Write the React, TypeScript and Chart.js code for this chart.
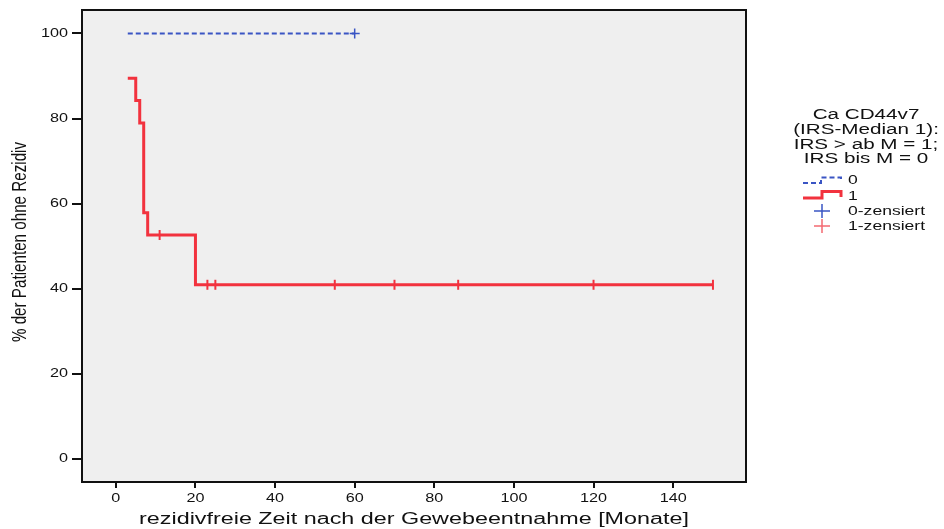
import React, { useEffect, useRef } from "react";
import { Chart, registerables } from "chart.js";

Chart.register(...registerables);

// ---- data ----
const blueTimes = [3, 60];
const blueSurv = [100, 100];
const blueCensorTimes = [60];
const blueCensorSurv = [100];

const redTimes = [3, 5, 6, 7, 8, 20, 150];
const redSurv = [89.47, 84.21, 78.95, 57.89, 52.63, 40.94, 40.94];
const redCensorTimes = [11, 23, 25, 55, 70, 86, 120, 150];
const redCensorSurv = [52.63, 40.94, 40.94, 40.94, 40.94, 40.94, 40.94, 40.94];

const xTicks = [0, 20, 40, 60, 80, 100, 120, 140];
const yTicks = [0, 20, 40, 60, 80, 100];

const xTitle = "rezidivfreie Zeit nach der Gewebeentnahme [Monate]";
const yTitle = "% der Patienten ohne Rezidiv";
const legendTitle = ["Ca CD44v7", "(IRS-Median 1):", "IRS > ab M = 1;", "IRS bis M = 0"];
const legendLabels = ["0", "1", "0-zensiert", "1-zensiert"];

const BLUE = "#3a55c4";
const RED = "#f2323e";
const RED_LIGHT = "#f46a72";
const FONT = "'Liberation Sans', Arial, sans-serif";
const SX = 1.35; // horizontal text stretch seen in the reference

const zip = (xs: number[], ys: number[]) => xs.map((x, i) => ({ x, y: ys[i] }));

function text(ctx: CanvasRenderingContext2D, s: string, x: number, y: number, size: number, align: CanvasTextAlign) {
  ctx.save();
  ctx.translate(x, y);
  ctx.scale(SX, 1);
  ctx.font = `${size}px ${FONT}`;
  ctx.textAlign = align;
  ctx.textBaseline = "middle";
  ctx.fillText(s, 0, 0);
  ctx.restore();
}

const decorPlugin = {
  id: "decor",
  beforeDraw(chart: any) {
    const { ctx, chartArea: a } = chart;
    ctx.save();
    ctx.fillStyle = "#efefef";
    ctx.fillRect(a.left, a.top, a.right - a.left, a.bottom - a.top);
    ctx.restore();
  },
  afterDraw(chart: any) {
    const { ctx, chartArea: a } = chart;
    const xs = chart.scales.x;
    const ys = chart.scales.y;
    ctx.save();
    // frame
    ctx.strokeStyle = "#111";
    ctx.lineWidth = 2;
    ctx.strokeRect(a.left, a.top, a.right - a.left, a.bottom - a.top);

    ctx.fillStyle = "#111";
    // tick labels
    xTicks.forEach((v) => text(ctx, String(v), xs.getPixelForValue(v), 499, 12, "center"));
    yTicks.forEach((v) => text(ctx, String(v), 68, ys.getPixelForValue(v), 12, "right"));

    // axis titles
    text(ctx, xTitle, (a.left + a.right) / 2, 519, 17.3, "center");
    ctx.save();
    ctx.translate(20, 242);
    ctx.rotate(-Math.PI / 2);
    ctx.scale(1, SX);
    ctx.font = `15.2px ${FONT}`;
    ctx.textAlign = "center";
    ctx.textBaseline = "middle";
    ctx.fillText(yTitle, 0, 0);
    ctx.restore();

    // legend title
    const ly = [115, 130, 144.5, 159];
    legendTitle.forEach((t, i) => text(ctx, t, 866, ly[i], 15.3, "center"));

    // legend items
    const iy = [180, 196, 211, 226];
    legendLabels.forEach((t, i) => text(ctx, t, 848, iy[i], 13, "left"));

    // blue dashed step icon
    ctx.strokeStyle = BLUE;
    ctx.lineWidth = 2;
    ctx.setLineDash([5, 3]);
    ctx.beginPath();
    ctx.moveTo(803, 183);
    ctx.lineTo(821, 183);
    ctx.lineTo(821, 177.5);
    ctx.lineTo(841, 177.5);
    ctx.lineTo(841, 181);
    ctx.stroke();
    ctx.setLineDash([]);

    // red step icon
    ctx.strokeStyle = RED;
    ctx.lineWidth = 3;
    ctx.beginPath();
    ctx.moveTo(803, 198);
    ctx.lineTo(822, 198);
    ctx.lineTo(822, 191.5);
    ctx.lineTo(841, 191.5);
    ctx.lineTo(841, 197);
    ctx.stroke();

    // censor crosses
    ctx.lineWidth = 1.5;
    ctx.strokeStyle = BLUE;
    ctx.beginPath();
    ctx.moveTo(814, 211); ctx.lineTo(830, 211);
    ctx.moveTo(822, 204); ctx.lineTo(822, 218);
    ctx.stroke();
    ctx.strokeStyle = RED_LIGHT;
    ctx.beginPath();
    ctx.moveTo(814, 226); ctx.lineTo(830, 226);
    ctx.moveTo(822, 219); ctx.lineTo(822, 233);
    ctx.stroke();
    ctx.restore();
  },
};

export default function App() {
  const ref = useRef<HTMLCanvasElement | null>(null);

  useEffect(() => {
    if (!ref.current) return;
    Chart.defaults.font.family = FONT;
    const chart = new Chart(ref.current, {
      type: "scatter",
      data: {
        datasets: [
          {
            label: "0",
            data: zip(blueTimes, blueSurv),
            showLine: true,
            stepped: true,
            borderColor: BLUE,
            borderWidth: 2,
            borderDash: [5, 3],
            pointRadius: 0,
            fill: false,
          },
          {
            label: "1",
            data: zip(redTimes, redSurv),
            showLine: true,
            stepped: true,
            borderColor: RED,
            borderWidth: 3,
            pointRadius: 0,
            fill: false,
          },
          {
            label: "0-zensiert",
            data: zip(blueCensorTimes, blueCensorSurv),
            showLine: false,
            pointStyle: "cross",
            pointRadius: 5,
            borderColor: BLUE,
            backgroundColor: BLUE,
            borderWidth: 1.5,
          },
          {
            label: "1-zensiert",
            data: zip(redCensorTimes, redCensorSurv),
            showLine: false,
            pointStyle: "line",
            rotation: 90,
            pointRadius: 5,
            borderColor: RED,
            backgroundColor: RED,
            borderWidth: 2,
          },
        ],
      },
      options: {
        animation: false,
        responsive: true,
        maintainAspectRatio: false,
        layout: { padding: { top: 10, right: 198, left: 0, bottom: 0 } },
        plugins: { legend: { display: false }, tooltip: { enabled: false } },
        scales: {
          x: {
            type: "linear",
            min: -8.5,
            max: 158.3,
            afterBuildTicks: (s: any) => {
              s.ticks = xTicks.map((v) => ({ value: v }));
            },
            afterFit: (s: any) => {
              s.height = 47;
            },
            ticks: { display: false },
            grid: {
              drawOnChartArea: false,
              drawTicks: true,
              tickLength: 6,
              color: "#111",
              lineWidth: 2,
            },
            border: { display: false },
          },
          y: {
            type: "linear",
            min: -5.4,
            max: 105.5,
            afterBuildTicks: (s: any) => {
              s.ticks = yTicks.map((v) => ({ value: v }));
            },
            afterFit: (s: any) => {
              s.width = 82;
            },
            ticks: { display: false },
            grid: {
              drawOnChartArea: false,
              drawTicks: true,
              tickLength: 10,
              color: "#111",
              lineWidth: 2,
            },
            border: { display: false },
          },
        },
      },
      plugins: [decorPlugin],
    } as any);
    return () => chart.destroy();
  }, []);

  return (
    <div style={{ position: "absolute", left: 0, top: 0, width: 944, height: 529, background: "#fff" }}>
      <canvas ref={ref} />
    </div>
  );
}
